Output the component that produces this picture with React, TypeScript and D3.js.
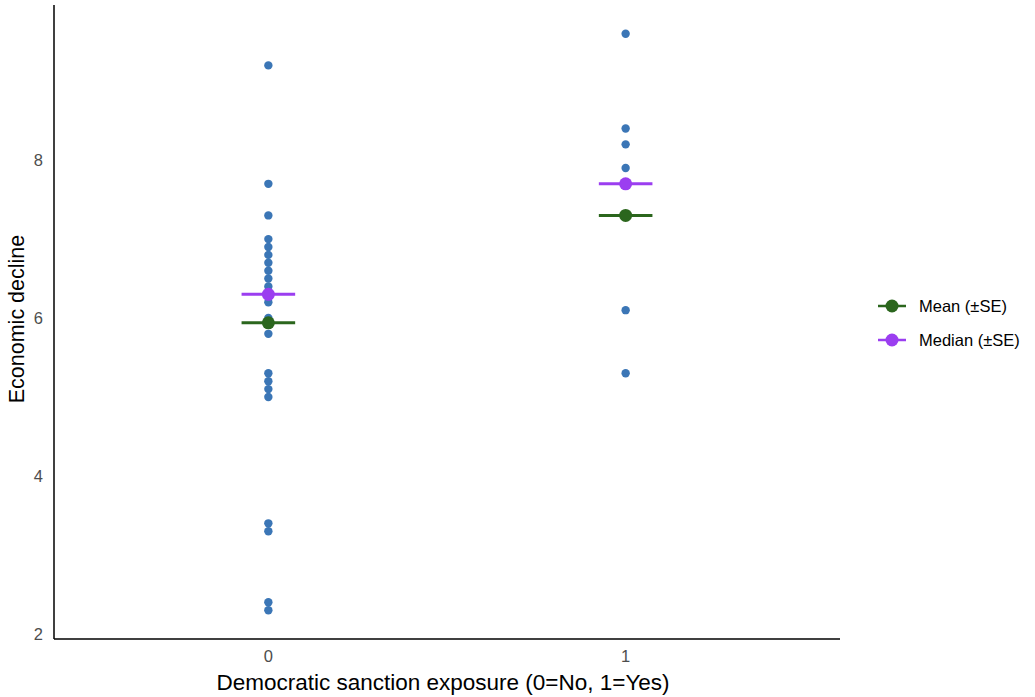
import React from "react";
import * as d3 from "d3";

const categories = ["0", "1"];
const group0 = [9.2, 7.7, 7.3, 7.0, 6.9, 6.8, 6.7, 6.6, 6.5, 6.4, 6.3, 6.2, 6.0, 5.8, 5.3, 5.2, 5.1, 5.0, 3.4, 3.3, 2.4, 2.3];
const group1 = [9.6, 8.4, 8.2, 7.9, 7.7, 7.3, 6.1, 5.3];
const meanValues = [5.94, 7.3];
const medianValues = [6.3, 7.7];
const yTicks = [2, 4, 6, 8];
const legendLabels = ["Mean (\u00b1SE)", "Median (\u00b1SE)"];

const W = 1035;
const H = 697;
const left = 54;
const right = 840;
const top = 5;
const bottom = 639;

const BLUE = "#3b76b6";
const GREEN = "#2b661d";
const PURPLE = "#9b3ef0";
const FONT = "Liberation Sans, Arial, Helvetica, sans-serif";

export default function App() {
  const all = [...group0, ...group1];
  const mn = d3.min(all) as number;
  const mx = d3.max(all) as number;
  const pad = (mx - mn) * 0.05;
  const y = d3.scaleLinear().domain([mn - pad, mx + pad]).range([bottom, top]);
  const x = d3.scaleLinear().domain([-0.6, 1.6]).range([left, right]);
  const groups = [group0, group1];
  const hw = 0.075;
  const summaryColors = [GREEN, PURPLE];
  const summaries = [meanValues, medianValues];

  return (
    <svg width={W} height={H} style={{ position: "absolute", left: 0, top: 0, background: "#fff" }}>
      <line x1={left} x2={left} y1={top} y2={bottom} stroke="#000" strokeWidth={1.5} />
      <line x1={left} x2={right} y1={bottom} y2={bottom} stroke="#000" strokeWidth={1.5} />
      {yTicks.map((t) => (
        <text key={t} x={left - 11} y={y(t)} dy="0.35em" textAnchor="end" fontSize={16.5} fill="#4d4d4d" fontFamily={FONT}>
          {t}
        </text>
      ))}
      {categories.map((c, i) => (
        <text key={c} x={x(i)} y={bottom + 23} textAnchor="middle" fontSize={16.5} fill="#4d4d4d" fontFamily={FONT}>
          {c}
        </text>
      ))}
      <text x={(left + right) / 2 - 4} y={690} textAnchor="middle" fontSize={22.5} fill="#000" fontFamily={FONT}>
        Democratic sanction exposure (0=No, 1=Yes)
      </text>
      <text transform={`translate(24, ${(top + bottom) / 2 - 3}) rotate(-90)`} textAnchor="middle" fontSize={21.5} fill="#000" fontFamily={FONT}>
        Economic decline
      </text>
      {groups.map((g, i) =>
        g.map((v, j) => <circle key={`${i}-${j}`} cx={x(i)} cy={y(v)} r={4.2} fill={BLUE} />)
      )}
      {summaries.map((s, k) =>
        s.map((v, i) => (
          <g key={`s${k}-${i}`}>
            <line x1={x(i - hw)} x2={x(i + hw)} y1={y(v)} y2={y(v)} stroke={summaryColors[k]} strokeWidth={3} />
            <circle cx={x(i)} cy={y(v)} r={6.5} fill={summaryColors[k]} />
          </g>
        ))
      )}
      {legendLabels.map((l, k) => (
        <g key={l} transform={`translate(0, ${306 + k * 34})`}>
          <line x1={878} x2={906} y1={0} y2={0} stroke={summaryColors[k]} strokeWidth={2.5} />
          <circle cx={892} cy={0} r={6.5} fill={summaryColors[k]} />
          <text x={919} y={0} dy="0.35em" fontSize={16.5} fill="#000" fontFamily={FONT}>
            {l}
          </text>
        </g>
      ))}
    </svg>
  );
}
